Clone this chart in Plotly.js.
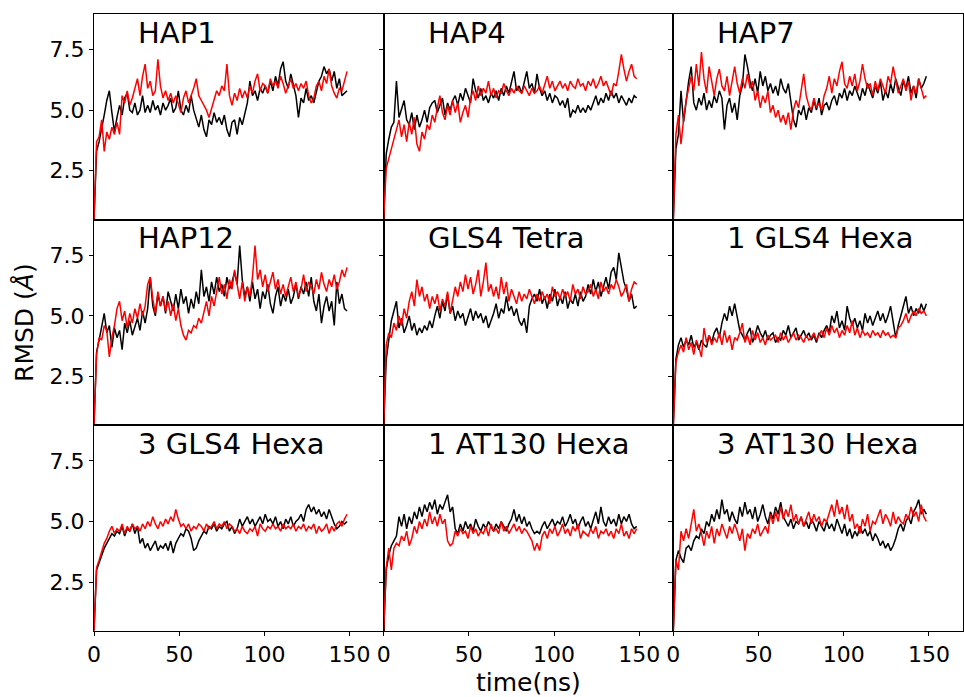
<!DOCTYPE html>
<html>
<head>
<meta charset="utf-8">
<script src="https://cdn.plot.ly/plotly-3.0.1.min.js"></script>
<style>html,body{margin:0;padding:0;background:#fff;}#chart{width:964px;height:697px;}</style>
</head>
<body>
<div id="chart"></div>
<script>
// time (ns)
var time = [0,1.5,3,4.5,6,7.5,9,10.5,12,13.5,15,16.5,18,19.5,21,22.5,24,25.5,27,28.5,
30,31.5,33,34.5,36,37.5,39,40.5,42,43.5,45,46.5,48,49.5,51,52.5,54,55.5,57,58.5,
60,61.5,63,64.5,66,67.5,69,70.5,72,73.5,75,76.5,78,79.5,81,82.5,84,85.5,87,88.5,
90,91.5,93,94.5,96,97.5,99,100.5,102,103.5,105,106.5,108,109.5,111,112.5,114,115.5,117,118.5,
120,121.5,123,124.5,126,127.5,129,130.5,132,133.5,135,136.5,138,139.5,141,142.5,144,145.5,147,148.5];

var panelTitles = ["HAP1","HAP4","HAP7","HAP12","GLS4 Tetra","1 GLS4 Hexa","3 GLS4 Hexa","1 AT130 Hexa","3 AT130 Hexa"];
var xTickVals = [0,50,100,150];
var xTickText = ["0","50","100","150"];
var yTickVals = [2.5,5.0,7.5];
var yTickText = ["2.5","5.0","7.5"];

var hap1_black = [0.5,3.3,3.7,4.2,4.8,5.4,5.8,4.9,4.1,4.7, 5.2,4.8,5.5,5.7,5.0,4.9,5.3,4.8,5.0,5.6,
4.9,5.2,4.9,5.4,5.0,5.2,4.8,5.3,5.0,5.2, 5.5,4.9,5.1,5.8,5.0,4.8,5.2,4.9,5.6,5.0,
4.6,4.3,4.8,4.2,3.9,4.6,4.4,4.9,4.5,4.7, 4.4,4.8,4.2,3.9,4.5,4.6,4.0,4.7,4.4,4.9,
5.3,6.2,5.6,5.8,5.4,5.9,5.7,6.0,5.7,6.2, 5.8,6.4,6.0,6.7,7.0,6.2,5.9,6.5,6.1,5.6,
4.7,5.5,5.3,5.9,5.4,5.6,5.3,5.8,6.2,6.4, 6.8,6.5,6.7,6.2,6.6,5.9,6.3,5.6,5.7,5.8];
var hap1_red = [0.5,3.7,3.9,4.6,3.3,4.1,3.8,4.3,4.0,4.5, 4.0,5.6,5.3,5.8,5.2,5.5,5.9,6.3,5.6,6.4,
6.9,5.9,6.2,5.6,5.8,7.1,6.0,5.5,5.8,5.4, 5.7,5.3,5.6,5.2,4.9,5.5,5.8,5.3,5.6,5.9,
6.3,5.6,5.4,5.2,5.0,4.7,5.1,5.4,5.8,5.6, 6.0,5.8,6.9,5.6,5.2,5.7,5.4,5.9,5.5,5.8,
5.5,6.0,5.7,6.2,6.5,5.8,6.1,6.0,5.7,6.3, 6.0,6.2,5.9,6.4,6.1,5.7,6.0,6.3,5.9,6.1,
5.8,6.1,5.9,6.2,5.6,5.3,5.5,6.0,6.2,5.8, 6.4,6.1,6.7,6.0,5.7,5.5,5.9,5.8,6.2,6.6];

var hap4_black = [0.5,3.2,3.8,4.3,4.5,6.2,4.7,5.1,5.4,4.6, 4.4,4.9,4.2,4.8,4.3,4.6,5.0,4.5,5.1,5.3,
5.4,4.9,5.2,5.5,4.8,5.3,5.0,5.4,5.6,5.2, 5.7,5.4,5.9,5.6,5.3,6.3,5.8,5.5,5.9,5.4,
5.6,5.3,5.7,5.5,5.8,5.4,5.9,5.6,6.0,5.7, 6.1,6.6,5.8,6.0,5.7,6.2,6.6,5.9,6.1,5.7,
6.5,5.9,5.6,5.8,5.4,5.7,5.3,5.6,5.5,5.2, 5.4,5.1,5.5,4.7,5.0,4.9,5.2,4.9,5.1,4.9,
5.2,5.0,5.3,5.6,5.2,5.5,5.3,5.7,5.4,5.8, 5.5,5.7,5.3,5.6,5.4,5.2,5.5,5.3,5.6,5.5];
var hap4_red = [0.5,2.6,3.0,3.4,3.9,4.3,4.6,3.9,4.4,3.7, 4.5,4.0,4.7,3.6,3.3,4.1,3.8,4.4,4.2,4.8,
4.5,5.1,5.6,4.9,4.6,5.2,4.8,5.4,4.9,5.3, 4.5,4.9,5.2,4.7,5.5,5.8,5.4,6.0,5.6,5.9,
5.7,6.2,5.6,5.9,5.5,5.8,5.7,6.1,5.8,5.6, 5.9,5.7,6.0,5.8,5.7,6.0,5.8,5.6,5.9,5.7,
5.8,6.0,5.7,6.1,6.4,5.9,6.2,5.8,6.0,6.2, 5.9,6.1,5.8,6.2,6.0,5.9,6.3,6.0,6.1,5.8,
6.2,6.0,6.3,5.9,6.1,6.4,6.0,6.2,5.9,5.6, 6.1,6.0,6.6,7.3,6.7,6.2,6.6,6.9,6.4,6.3];

var hap7_black = [0.5,3.4,4.0,5.8,4.5,5.4,6.2,6.8,5.3,5.0, 5.5,5.2,5.7,5.0,5.4,5.1,5.6,5.3,5.8,5.5,
4.2,5.2,5.5,4.9,5.3,4.6,5.6,6.0,7.3,6.8, 6.2,5.8,6.3,5.7,6.6,6.0,6.4,5.8,6.1,5.7,
6.0,5.6,6.3,5.9,5.7,6.1,5.3,4.6,4.3,5.0, 4.8,5.2,4.6,5.1,4.9,5.4,5.0,5.5,4.8,5.2,
5.3,5.0,5.4,5.6,5.2,5.7,5.5,5.9,5.4,5.8, 5.6,6.0,5.7,5.4,5.9,5.6,6.1,5.8,5.5,6.0,
5.7,6.2,5.4,5.8,5.5,6.1,5.7,6.3,5.9,5.6, 6.2,5.9,6.4,5.7,6.0,5.5,6.3,5.9,6.1,6.4];
var hap7_red = [0.5,4.0,4.8,3.6,4.6,5.4,5.9,6.4,5.8,6.9, 6.0,7.4,6.3,5.7,6.8,6.1,5.6,6.3,6.7,6.0,
5.8,6.4,5.6,6.2,6.8,6.1,5.7,6.3,5.9,6.5, 5.9,6.2,5.4,5.8,5.1,5.6,5.3,5.8,4.9,5.2,
4.7,5.0,4.5,4.8,4.4,4.9,4.2,5.0,5.4,5.1, 5.8,6.5,5.6,5.2,5.0,5.5,5.1,5.3,5.0,5.6,
5.9,6.4,5.7,6.3,6.0,6.6,7.0,6.1,5.9,6.4, 6.0,6.5,5.8,6.2,6.9,6.3,5.9,6.1,5.6,6.2,
5.8,6.3,6.0,5.7,6.4,6.1,6.8,6.2,5.7,6.0, 6.3,5.8,6.2,5.4,6.0,5.7,6.3,5.9,5.5,5.6];

var hap12_black = [0.5,3.5,4.0,4.5,5.1,4.3,4.6,3.7,4.5,4.1, 4.4,3.6,4.7,4.3,4.8,4.2,4.6,4.9,4.4,5.2,
4.7,5.3,6.6,5.4,5.0,5.9,5.4,5.8,5.1,6.0, 5.6,5.2,5.9,5.3,6.1,5.5,5.8,5.1,5.7,5.3,
6.0,5.5,6.9,5.8,6.2,5.6,6.4,5.9,6.6,6.0, 6.3,5.8,6.6,6.1,6.4,6.8,6.3,7.9,6.5,5.8,
6.2,5.6,6.4,5.7,6.1,5.3,6.0,5.7,6.3,5.5, 5.1,5.8,6.2,5.4,5.9,5.6,6.1,5.5,5.8,6.3,
5.7,6.2,5.9,6.4,5.8,6.6,5.6,5.2,5.9,4.7, 5.4,5.8,5.2,5.6,4.6,6.4,5.5,5.9,5.3,5.2];
var hap12_red = [0.5,3.4,4.1,4.0,4.6,4.4,3.3,4.1,4.6,5.3, 5.6,4.8,5.2,4.5,5.1,4.7,5.3,4.9,5.5,5.0,
5.4,6.3,6.6,5.7,5.1,6.0,5.4,5.8,5.2,5.6, 5.0,5.5,4.8,5.3,4.6,4.2,4.0,4.4,4.3,4.6,
4.5,4.9,4.7,5.2,5.6,5.0,5.8,5.4,6.0,6.6, 5.9,6.3,5.7,6.5,6.1,6.9,6.3,5.7,6.4,5.6,
6.2,5.8,6.6,7.9,6.5,6.9,6.2,6.7,6.0,6.4, 6.8,6.1,6.5,5.9,6.3,5.8,6.2,6.6,6.0,6.4,
5.8,6.1,6.7,6.0,6.4,6.2,5.9,6.5,6.1,6.8, 6.3,6.0,6.5,6.2,6.7,6.1,6.4,6.9,6.6,7.0];

var gls4tetra_black = [0.5,3.2,4.0,4.8,5.2,5.6,4.5,4.9,4.3,4.6, 5.0,4.4,4.7,4.2,4.5,4.3,4.6,4.4,4.8,4.5,
5.0,5.4,4.9,5.6,5.2,5.9,5.1,5.4,4.8,5.2, 4.9,5.1,4.6,5.0,5.3,4.8,5.2,4.9,5.1,4.7,
5.0,4.5,4.8,5.1,5.5,4.9,5.3,5.1,5.8,5.2, 5.4,5.0,5.3,4.8,4.6,4.9,4.3,5.4,5.7,5.9,
5.6,6.1,5.5,5.8,5.3,5.9,5.6,6.1,5.4,5.8, 5.5,6.0,5.3,5.7,5.5,5.9,5.4,6.0,5.6,5.8,
6.3,5.9,6.5,6.0,6.4,5.8,6.2,6.6,6.1,6.8, 7.0,6.5,7.6,6.9,6.4,6.1,5.6,5.9,5.3,5.4];
var gls4tetra_red = [0.5,3.8,4.3,4.1,4.7,4.4,5.0,4.6,5.3,4.9, 5.6,6.0,5.4,6.5,5.8,6.2,5.6,5.9,5.3,5.8,
5.5,5.9,5.2,5.7,5.4,6.0,5.1,5.6,6.2,5.8, 6.4,6.0,6.7,6.1,6.6,5.9,6.3,6.9,5.8,6.4,
7.2,6.0,6.3,5.8,6.2,5.7,6.6,5.9,6.4,5.6, 6.1,5.8,5.5,6.0,5.6,5.9,5.7,6.1,5.8,5.5,
5.9,5.6,6.0,5.7,5.9,5.5,6.2,5.8,6.0,5.7, 6.1,5.8,6.0,5.6,6.3,5.9,6.1,5.7,6.2,5.9,
6.0,6.3,5.8,6.1,5.7,6.4,6.0,6.2,5.9,6.3, 6.1,6.5,6.2,5.8,6.0,6.3,5.6,6.1,6.4,6.3];

var gls4hexa1_black = [0.5,3.2,3.8,4.1,3.7,4.0,3.8,4.2,3.7,3.9, 3.6,4.0,3.8,3.7,4.2,3.9,4.3,4.5,4.1,4.7,
5.1,4.8,5.4,5.0,5.5,4.9,4.4,4.2,4.0,4.3, 4.5,3.9,4.2,4.6,4.3,4.1,4.4,4.0,4.2,4.3,
3.9,4.1,4.0,4.4,4.2,4.6,4.1,4.3,4.5,4.0, 4.2,4.4,4.1,4.3,4.0,4.2,3.9,4.3,4.1,4.4,
4.6,4.3,5.0,4.7,5.2,4.5,4.8,4.4,5.4,4.9, 4.6,4.9,4.5,4.8,4.4,5.1,4.7,5.0,4.6,4.9,
5.2,4.8,5.1,4.7,5.0,5.4,4.8,4.1,4.6,5.0, 5.3,5.8,5.1,5.4,5.0,5.3,5.1,5.5,5.2,5.5];
var gls4hexa1_red = [0.5,3.1,3.5,3.8,3.5,4.1,3.6,3.9,3.4,4.0, 3.7,3.3,4.5,3.9,4.2,3.8,4.1,3.9,4.3,3.8,
4.4,3.9,4.2,3.6,4.1,4.0,4.3,4.7,3.9,4.2, 3.8,4.4,4.0,4.3,3.9,4.1,3.8,4.2,4.0,4.1,
4.2,3.9,4.3,4.0,4.2,3.9,4.1,4.3,4.0,4.2, 4.1,3.9,4.2,4.0,4.1,4.3,4.0,4.2,4.4,4.1,
4.5,4.2,4.6,4.3,4.5,4.1,4.4,4.2,4.6,4.3, 4.8,4.2,4.5,4.1,4.4,4.2,4.3,4.1,4.4,4.2,
4.3,4.1,4.4,4.2,4.3,4.1,4.2,4.1,4.5,4.6, 4.8,5.1,4.7,5.0,5.2,5.0,5.3,5.1,5.2,5.0];

var gls4hexa3_black = [0.5,3.0,3.3,3.6,3.9,4.1,4.3,4.5,4.4,4.6, 4.5,4.8,4.4,4.7,4.6,4.9,4.5,4.8,4.1,4.3,
3.9,4.1,3.8,4.0,4.2,3.8,4.0,3.9,4.1,3.8, 4.2,3.7,4.1,4.3,4.5,4.4,4.7,4.6,4.3,3.8,
3.9,4.2,4.4,4.6,4.5,4.8,4.7,4.9,4.6,4.8, 4.7,4.9,5.0,4.6,4.8,4.5,4.7,5.1,4.8,5.0,
5.2,4.9,5.1,4.8,5.0,5.2,4.9,5.3,5.0,5.1, 4.9,5.2,4.8,5.0,4.7,5.1,4.9,5.2,4.8,5.0,
5.1,5.3,5.0,5.5,5.7,5.4,5.6,5.3,5.5,5.2, 5.4,5.1,5.5,5.2,4.9,4.7,4.8,5.0,4.9,5.0];
var gls4hexa3_red = [0.5,3.1,3.4,3.8,4.1,4.3,4.6,4.8,4.5,4.7, 4.6,4.9,4.5,4.8,4.6,4.9,4.7,4.8,4.6,4.9,
4.7,5.0,4.8,5.2,4.9,4.7,5.0,4.8,5.1,4.9, 5.2,5.0,5.5,5.1,4.8,4.9,4.7,4.9,4.6,4.8,
4.7,4.9,4.8,4.6,4.9,4.7,4.8,5.0,4.7,4.9, 4.8,5.0,4.7,4.9,4.8,4.6,4.7,4.5,4.8,4.6,
4.5,4.7,4.6,4.8,4.4,4.9,4.7,4.6,4.8,4.7, 4.9,4.7,4.8,4.6,4.9,4.7,4.8,4.7,4.9,4.6,
4.8,4.7,4.9,4.6,4.8,4.7,4.9,4.5,4.8,4.6, 4.7,4.9,4.5,4.8,4.6,4.9,5.0,4.8,5.1,5.3];

var at130hexa1_black = [0.5,3.0,3.6,4.0,4.2,4.4,5.2,4.8,5.3,4.7, 5.2,4.9,5.4,5.1,5.6,5.2,5.7,5.4,5.8,5.5,
5.9,5.3,5.7,5.5,5.8,6.1,5.4,5.6,4.7,4.5, 4.9,4.6,5.0,4.7,4.9,4.6,5.1,4.8,4.6,4.9,
4.7,5.0,4.8,4.6,4.9,4.7,5.0,4.8,4.6,4.9, 5.1,5.5,5.0,5.3,4.9,5.2,4.8,5.0,4.7,4.5,
4.6,4.5,4.8,5.0,4.7,4.9,5.1,4.8,5.0,4.9, 5.2,4.8,5.0,5.3,4.9,5.1,4.7,5.0,5.2,4.8,
5.0,4.7,5.1,5.4,4.9,5.6,5.0,4.8,5.2,4.9, 5.1,4.8,5.3,4.9,5.2,5.0,5.3,4.9,4.7,4.8];
var at130hexa1_red = [0.5,3.1,3.9,3.0,3.9,4.1,4.0,4.4,4.2,4.6, 4.0,4.3,4.8,4.5,5.0,4.7,5.1,4.8,5.4,4.9,
5.2,4.8,5.3,4.9,5.1,4.2,4.0,4.1,4.6,4.4, 4.7,4.5,4.6,4.3,4.8,4.5,4.7,4.4,4.6,4.5,
4.8,4.4,4.9,4.6,4.7,4.5,5.0,4.6,4.8,4.5, 4.7,4.9,4.6,4.8,4.5,4.7,4.6,4.4,4.2,3.8,
4.1,3.8,4.4,4.6,4.3,4.7,4.5,4.8,4.4,4.6, 4.9,4.5,4.7,4.4,4.8,4.6,4.9,4.3,4.6,4.5,
4.4,4.7,4.5,4.8,4.3,4.6,4.5,4.7,4.4,4.6, 4.3,4.7,4.5,4.9,4.4,4.6,4.3,4.7,4.5,4.7];

var at130hexa3_black = [0.5,3.4,3.8,3.5,3.3,3.9,4.0,3.8,4.2,4.4, 4.3,4.7,4.5,5.0,4.8,5.3,5.0,5.5,5.1,5.9,
5.3,5.5,5.0,5.4,5.1,4.9,5.6,5.2,5.8,5.3, 5.5,5.1,5.6,5.0,5.3,5.7,5.2,4.9,5.4,5.1,
5.6,5.3,5.8,5.2,5.0,4.8,5.1,4.7,5.0,4.9, 5.2,4.8,5.0,4.7,5.1,4.9,4.6,5.0,4.8,4.6,
5.0,4.7,4.9,4.6,5.1,4.8,4.5,4.9,4.4,4.7, 4.3,4.6,4.4,4.8,4.5,4.7,4.4,4.6,4.2,4.5,
4.3,4.0,4.2,3.9,4.1,3.8,4.0,4.3,4.7,4.9, 4.6,5.0,5.2,4.9,5.4,5.6,5.9,5.3,5.5,5.3];
var at130hexa3_red = [0.5,3.4,3.0,4.6,4.2,4.7,4.3,4.9,5.5,4.6, 4.9,4.5,4.0,4.6,4.3,4.8,4.1,4.7,4.4,4.9,
4.6,4.3,4.8,4.5,4.9,4.6,4.2,4.7,3.8,4.5, 4.3,4.7,4.5,4.9,4.4,4.6,4.8,4.5,5.3,4.9,
5.4,5.0,5.6,5.1,5.5,5.2,5.7,5.0,5.3,4.9, 5.2,4.8,5.1,5.4,4.9,5.3,5.0,5.2,4.8,5.1,
5.0,5.4,5.7,5.2,5.9,5.3,5.6,5.1,5.7,5.0, 5.3,4.7,4.9,4.5,5.1,4.8,5.3,4.6,5.0,4.9,
5.2,5.5,4.9,5.3,5.1,4.8,5.4,4.9,5.2,5.0, 4.9,5.3,5.1,5.6,5.2,5.4,5.0,5.7,5.2,5.0];

var blackSeries = [hap1_black,hap4_black,hap7_black,hap12_black,gls4tetra_black,gls4hexa1_black,gls4hexa3_black,at130hexa1_black,at130hexa3_black];
var redSeries = [hap1_red,hap4_red,hap7_red,hap12_red,gls4tetra_red,gls4hexa1_red,gls4hexa3_red,at130hexa1_red,at130hexa3_red];
var titleOffsets = [0.145,0.145,0.145,0.145,0.145,0.179,0.145,0.145,0.145];

var FONT = "DejaVu Sans, Liberation Sans, sans-serif";
var traces = [];
var layout = {
  width: 964, height: 697,
  margin: {l: 94, r: 1, t: 14, b: 66},
  paper_bgcolor: "#fff", plot_bgcolor: "#fff",
  showlegend: false,
  font: {family: FONT, size: 22, color: "#000"},
  annotations: []
};

for (var i = 0; i < 9; i++) {
  var r = Math.floor(i / 3), c = i % 3;
  var sx = i === 0 ? "" : String(i + 1);
  traces.push({x: time, y: blackSeries[i], type: "scatter", mode: "lines",
    line: {color: "#000000", width: 1.5}, xaxis: "x" + sx, yaxis: "y" + sx, hoverinfo: "skip"});
  traces.push({x: time, y: redSeries[i], type: "scatter", mode: "lines",
    line: {color: "#ff0000", width: 1.5}, xaxis: "x" + sx, yaxis: "y" + sx, hoverinfo: "skip"});
  var bottom = (r === 2);
  layout["xaxis" + sx] = {
    domain: [c / 3, (c + 1) / 3], anchor: "y" + sx, range: [0, 170],
    showgrid: false, zeroline: false, showline: true, mirror: true,
    linecolor: "#000", linewidth: 1,
    tickvals: xTickVals, ticktext: xTickText,
    ticks: bottom ? "outside" : "", ticklen: 4, tickwidth: 1, tickcolor: "#000",
    showticklabels: bottom, tickfont: {family: FONT, size: 22, color: "#000"}
  };
  layout["yaxis" + sx] = {
    domain: [1 - (r + 1) / 3, 1 - r / 3], anchor: "x" + sx, range: [0.48, 8.97],
    showgrid: false, zeroline: false, showline: true, mirror: true,
    linecolor: "#000", linewidth: 1,
    tickvals: yTickVals, ticktext: yTickText,
    ticks: "outside", ticklen: 4, tickwidth: 1, tickcolor: "#000",
    showticklabels: (c === 0), tickfont: {family: FONT, size: 22, color: "#000"}
  };
  layout.annotations.push({
    text: panelTitles[i], xref: "x" + sx + " domain", yref: "y" + sx + " domain",
    x: titleOffsets[i], y: 0.91, xanchor: "left", yanchor: "middle", showarrow: false,
    font: {family: FONT, size: 29, color: "#000"}
  });
}
layout.annotations.push({
  text: "time(ns)", xref: "paper", yref: "paper", x: 0.5, y: -0.084,
  xanchor: "center", yanchor: "middle", showarrow: false,
  font: {family: FONT, size: 25, color: "#000"}
});
layout.annotations.push({
  text: "RMSD (<i>Å</i>)", xref: "paper", yref: "paper", x: -0.08, y: 0.5,
  xanchor: "center", yanchor: "middle", textangle: -90, showarrow: false,
  font: {family: FONT, size: 25, color: "#000"}
});

Plotly.newPlot("chart", traces, layout, {displayModeBar: false, staticPlot: true});
</script>
</body>
</html>
